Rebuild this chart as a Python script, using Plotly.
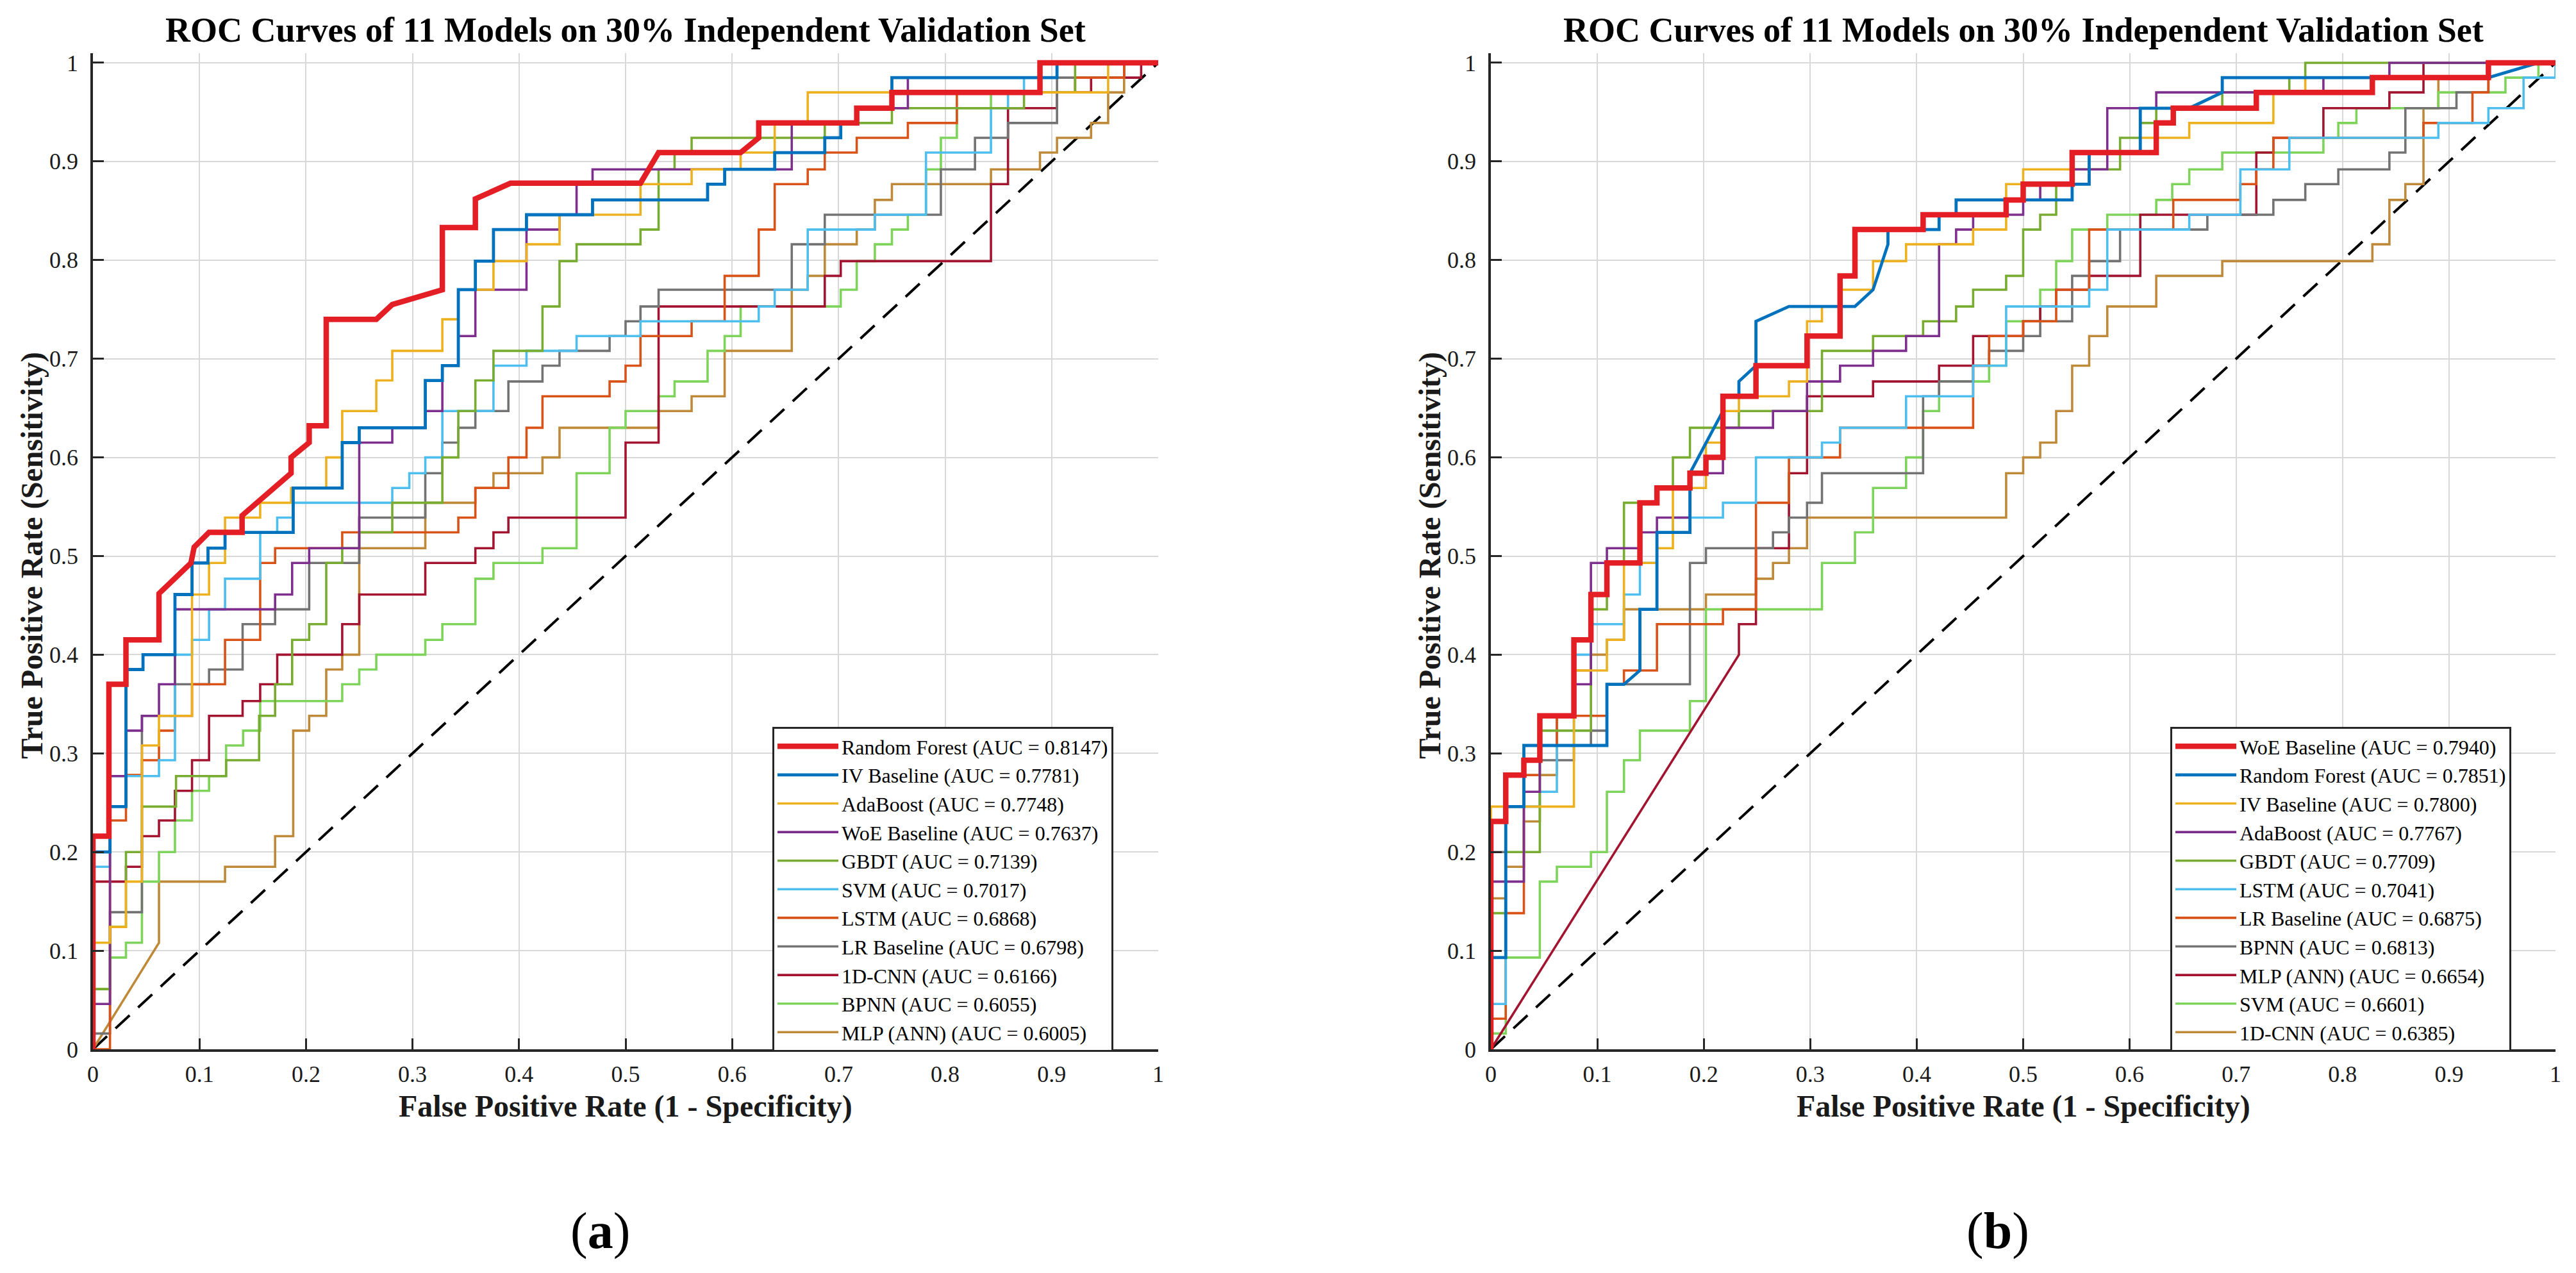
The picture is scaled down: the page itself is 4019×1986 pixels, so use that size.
import plotly.graph_objects as go

# ---------------- data ----------------
TICK_VALS = [0, 0.1, 0.2, 0.3, 0.4, 0.5, 0.6, 0.7, 0.8, 0.9, 1.0]
TICK_TEXT = ["0", "0.1", "0.2", "0.3", "0.4", "0.5", "0.6", "0.7", "0.8", "0.9", "1"]

TITLE = "ROC Curves of 11 Models on 30% Independent Validation Set"
X_TITLE = "False Positive Rate (1 - Specificity)"
Y_TITLE = "True Positive Rate (Sensitivity)"
PANEL_LABELS = ["a", "b"]

A_MODELS = ["Random Forest", "IV Baseline", "AdaBoost", "WoE Baseline", "GBDT", "SVM",
            "LSTM", "LR Baseline", "1D-CNN", "BPNN", "MLP (ANN)"]
A_AUC = [0.8147, 0.7781, 0.7748, 0.7637, 0.7139, 0.7017, 0.6868, 0.6798, 0.6166, 0.6055, 0.6005]

B_MODELS = ["WoE Baseline", "Random Forest", "IV Baseline", "AdaBoost", "GBDT", "LSTM",
            "LR Baseline", "BPNN", "MLP (ANN)", "SVM", "1D-CNN"]
B_AUC = [0.7940, 0.7851, 0.7800, 0.7767, 0.7709, 0.7041, 0.6875, 0.6813, 0.6654, 0.6601, 0.6385]

# ROC vertices (FPR, TPR), panel (a)
A_RF = [(0,0),(0,0.216),(0.015,0.216),(0.015,0.370),(0.031,0.370),(0.031,0.415),(0.062,0.415),(0.062,0.462),
        (0.092,0.493),(0.095,0.509),(0.109,0.524),(0.140,0.524),(0.140,0.541),(0.186,0.584),(0.186,0.600),
        (0.203,0.615),(0.203,0.632),(0.219,0.632),(0.219,0.740),(0.266,0.740),(0.281,0.755),(0.328,0.770),
        (0.328,0.833),(0.359,0.833),(0.359,0.862),(0.392,0.878),(0.514,0.878),(0.531,0.909),(0.608,0.909),
        (0.625,0.924),(0.625,0.939),(0.717,0.939),(0.717,0.954),(0.750,0.954),(0.750,0.970),(0.889,0.970),
        (0.889,1.0),(1.0,1.0)]
A_IV = [(0,0),(0,0.2),(0.016,0.2),(0.016,0.246),(0.031,0.246),(0.031,0.385),(0.047,0.385),(0.047,0.400),
        (0.077,0.400),(0.077,0.461),(0.093,0.461),(0.093,0.493),(0.108,0.493),(0.108,0.508),(0.124,0.508),
        (0.124,0.524),(0.188,0.524),(0.188,0.569),(0.234,0.569),(0.234,0.615),(0.250,0.615),(0.250,0.630),
        (0.312,0.630),(0.312,0.678),(0.328,0.678),(0.328,0.693),(0.343,0.693),(0.343,0.770),(0.359,0.770),
        (0.359,0.799),(0.376,0.799),(0.376,0.831),(0.407,0.831),(0.407,0.846),(0.469,0.846),(0.469,0.861),
        (0.577,0.861),(0.577,0.877),(0.593,0.877),(0.593,0.892),(0.640,0.892),(0.640,0.909),(0.687,0.909),
        (0.687,0.924),(0.702,0.924),(0.702,0.939),(0.717,0.939),(0.717,0.954),(0.750,0.954),(0.750,0.985),
        (0.905,0.985),(0.905,1.0),(1.0,1.0)]
A_ADA = [(0,0),(0,0.108),(0.016,0.108),(0.016,0.124),(0.031,0.124),(0.031,0.170),(0.046,0.170),(0.046,0.308),
         (0.062,0.308),(0.062,0.338),(0.093,0.338),(0.093,0.461),(0.109,0.461),(0.109,0.493),(0.124,0.493),
         (0.124,0.539),(0.157,0.539),(0.157,0.554),(0.186,0.554),(0.186,0.569),(0.219,0.569),(0.219,0.600),
         (0.234,0.600),(0.234,0.647),(0.266,0.647),(0.266,0.678),(0.281,0.678),(0.281,0.708),(0.328,0.708),
         (0.328,0.740),(0.343,0.740),(0.343,0.770),(0.376,0.770),(0.376,0.799),(0.407,0.799),(0.407,0.816),
         (0.438,0.816),(0.438,0.846),(0.514,0.846),(0.514,0.877),(0.562,0.877),(0.562,0.892),(0.608,0.892),
         (0.608,0.909),(0.640,0.909),(0.640,0.939),(0.671,0.939),(0.671,0.970),(0.953,0.970),(0.953,1.0),
         (1.0,1.0)]
A_WOE = [(0,0),(0,0.046),(0.016,0.046),(0.016,0.277),(0.031,0.277),(0.031,0.323),(0.046,0.323),(0.046,0.338),
         (0.062,0.338),(0.062,0.370),(0.077,0.370),(0.077,0.446),(0.171,0.446),(0.171,0.461),(0.187,0.461),
         (0.187,0.493),(0.203,0.493),(0.203,0.508),(0.250,0.508),(0.250,0.615),(0.281,0.615),(0.281,0.630),
         (0.312,0.630),(0.312,0.647),(0.328,0.647),(0.328,0.693),(0.343,0.693),(0.343,0.723),(0.359,0.723),
         (0.359,0.770),(0.407,0.770),(0.407,0.831),(0.438,0.831),(0.438,0.846),(0.454,0.846),(0.454,0.878),
         (0.469,0.878),(0.469,0.892),(0.656,0.892),(0.656,0.939),(0.717,0.939),(0.717,0.954),(0.765,0.954),
         (0.765,0.985),(0.889,0.985),(0.889,1.0),(1.0,1.0)]
A_GBDT = [(0,0),(0,0.061),(0.016,0.061),(0.016,0.124),(0.031,0.124),(0.031,0.2),(0.046,0.2),(0.046,0.246),
          (0.078,0.246),(0.078,0.277),(0.125,0.277),(0.125,0.293),(0.156,0.293),(0.156,0.338),(0.171,0.338),
          (0.171,0.370),(0.187,0.370),(0.187,0.415),(0.203,0.415),(0.203,0.431),(0.219,0.431),(0.219,0.493),
          (0.234,0.493),(0.234,0.508),(0.250,0.508),(0.250,0.524),(0.281,0.524),(0.281,0.554),(0.328,0.554),
          (0.328,0.600),(0.343,0.600),(0.343,0.647),(0.359,0.647),(0.359,0.678),(0.376,0.678),(0.376,0.708),
          (0.422,0.708),(0.422,0.753),(0.438,0.753),(0.438,0.799),(0.454,0.799),(0.454,0.816),(0.514,0.816),
          (0.514,0.831),(0.531,0.831),(0.531,0.892),(0.546,0.892),(0.546,0.909),(0.562,0.909),(0.562,0.924),
          (0.687,0.924),(0.687,0.939),(0.750,0.939),(0.750,0.954),(0.874,0.954),(0.874,0.970),(0.922,0.970),
          (0.922,1.0),(1.0,1.0)]
A_SVM = [(0,0),(0,0.185),(0.016,0.185),(0.016,0.277),(0.062,0.277),(0.062,0.293),(0.077,0.293),(0.077,0.400),
         (0.093,0.400),(0.093,0.415),(0.109,0.415),(0.109,0.446),(0.124,0.446),(0.124,0.477),(0.157,0.477),
         (0.157,0.524),(0.173,0.524),(0.173,0.539),(0.188,0.539),(0.188,0.554),(0.281,0.554),(0.281,0.569),
         (0.297,0.569),(0.297,0.584),(0.312,0.584),(0.312,0.600),(0.328,0.600),(0.328,0.647),(0.376,0.647),
         (0.376,0.693),(0.407,0.693),(0.407,0.708),(0.454,0.708),(0.454,0.723),(0.514,0.723),(0.514,0.738),
         (0.625,0.738),(0.625,0.753),(0.640,0.753),(0.640,0.770),(0.671,0.770),(0.671,0.831),(0.734,0.831),
         (0.734,0.846),(0.782,0.846),(0.782,0.909),(0.843,0.909),(0.843,0.954),(0.859,0.954),(0.859,0.970),
         (0.874,0.970),(0.874,0.985),(0.905,0.985),(0.905,1.0),(1.0,1.0)]
A_LSTM = [(0,0),(0.016,0),(0.016,0.232),(0.031,0.232),(0.031,0.278),(0.046,0.278),(0.046,0.293),(0.062,0.293),
          (0.062,0.323),(0.077,0.323),(0.077,0.338),(0.093,0.338),(0.093,0.370),(0.124,0.370),(0.124,0.415),
          (0.157,0.415),(0.157,0.493),(0.171,0.493),(0.171,0.508),(0.234,0.508),(0.234,0.524),(0.343,0.524),
          (0.343,0.539),(0.359,0.539),(0.359,0.569),(0.390,0.569),(0.390,0.600),(0.407,0.600),(0.407,0.630),
          (0.422,0.630),(0.422,0.662),(0.485,0.662),(0.485,0.677),(0.500,0.677),(0.500,0.693),(0.514,0.693),
          (0.514,0.723),(0.562,0.723),(0.562,0.738),(0.593,0.738),(0.593,0.784),(0.625,0.784),(0.625,0.831),
          (0.640,0.831),(0.640,0.877),(0.671,0.877),(0.671,0.892),(0.687,0.892),(0.687,0.909),(0.717,0.909),
          (0.717,0.924),(0.765,0.924),(0.765,0.939),(0.811,0.939),(0.811,0.970),(0.922,0.970),(0.922,0.985),
          (0.968,0.985),(0.968,1.0),(1.0,1.0)]
A_LR = [(0,0),(0,0.016),(0.016,0.016),(0.016,0.139),(0.046,0.139),(0.046,0.338),(0.077,0.338),(0.077,0.370),
        (0.109,0.370),(0.109,0.385),(0.1405,0.385),(0.1405,0.431),(0.171,0.431),(0.171,0.446),(0.203,0.446),
        (0.203,0.493),(0.250,0.493),(0.250,0.539),(0.312,0.539),(0.312,0.584),(0.328,0.584),(0.328,0.615),
        (0.343,0.615),(0.343,0.630),(0.359,0.630),(0.359,0.647),(0.390,0.647),(0.390,0.677),(0.422,0.677),
        (0.422,0.693),(0.438,0.693),(0.438,0.708),(0.485,0.708),(0.485,0.723),(0.500,0.723),(0.500,0.738),
        (0.514,0.738),(0.514,0.753),(0.531,0.753),(0.531,0.770),(0.656,0.770),(0.656,0.816),(0.687,0.816),
        (0.687,0.846),(0.796,0.846),(0.796,0.892),(0.828,0.892),(0.828,0.924),(0.859,0.924),(0.859,0.939),
        (0.905,0.939),(0.905,0.985),(0.968,0.985),(0.968,1.0),(1.0,1.0)]
A_CNN = [(0,0),(0,0.170),(0.031,0.170),(0.031,0.185),(0.046,0.185),(0.046,0.216),(0.062,0.216),(0.062,0.232),
         (0.077,0.232),(0.077,0.262),(0.093,0.262),(0.093,0.293),(0.109,0.293),(0.109,0.338),(0.1405,0.338),
         (0.1405,0.353),(0.157,0.353),(0.157,0.370),(0.173,0.370),(0.173,0.400),(0.234,0.400),(0.234,0.431),
         (0.250,0.431),(0.250,0.461),(0.312,0.461),(0.312,0.493),(0.359,0.493),(0.359,0.508),(0.376,0.508),
         (0.376,0.524),(0.390,0.524),(0.390,0.539),(0.500,0.539),(0.500,0.615),(0.531,0.615),(0.531,0.753),
         (0.687,0.753),(0.687,0.784),(0.702,0.784),(0.702,0.799),(0.843,0.799),(0.843,0.877),(0.859,0.877),
         (0.859,0.954),(0.905,0.954),(0.905,0.970),(0.937,0.970),(0.937,0.985),(0.984,0.985),(0.984,1.0),
         (1.0,1.0)]
A_BPNN = [(0,0),(0,0.061),(0.016,0.061),(0.016,0.093),(0.031,0.093),(0.031,0.108),(0.046,0.108),(0.046,0.170),
          (0.062,0.170),(0.062,0.2),(0.077,0.2),(0.077,0.232),(0.093,0.232),(0.093,0.262),(0.109,0.262),
          (0.109,0.277),(0.125,0.277),(0.125,0.308),(0.141,0.308),(0.141,0.323),(0.157,0.323),(0.157,0.353),
          (0.234,0.353),(0.234,0.370),(0.250,0.370),(0.250,0.385),(0.266,0.385),(0.266,0.400),(0.312,0.400),
          (0.312,0.415),(0.328,0.415),(0.328,0.431),(0.359,0.431),(0.359,0.477),(0.376,0.477),(0.376,0.493),
          (0.422,0.493),(0.422,0.508),(0.454,0.508),(0.454,0.584),(0.485,0.584),(0.485,0.630),(0.500,0.630),
          (0.500,0.647),(0.531,0.647),(0.531,0.662),(0.546,0.662),(0.546,0.677),(0.577,0.677),(0.577,0.708),
          (0.593,0.708),(0.593,0.723),(0.608,0.723),(0.608,0.753),(0.702,0.753),(0.702,0.770),(0.717,0.770),
          (0.717,0.799),(0.734,0.799),(0.734,0.816),(0.750,0.816),(0.750,0.831),(0.765,0.831),(0.765,0.846),
          (0.782,0.846),(0.782,0.892),(0.796,0.892),(0.796,0.924),(0.811,0.924),(0.811,0.954),(0.843,0.954),
          (0.843,0.970),(0.889,0.970),(0.889,1.0),(1.0,1.0)]
A_MLP = [(0,0),(0.062,0.108),(0.062,0.170),(0.124,0.170),(0.124,0.185),(0.171,0.185),(0.171,0.216),(0.188,0.216),
         (0.188,0.323),(0.203,0.323),(0.203,0.338),(0.219,0.338),(0.219,0.385),(0.234,0.385),(0.234,0.400),
         (0.250,0.400),(0.250,0.508),(0.312,0.508),(0.312,0.554),(0.359,0.554),(0.359,0.569),(0.376,0.569),
         (0.376,0.584),(0.422,0.584),(0.422,0.600),(0.438,0.600),(0.438,0.630),(0.531,0.630),(0.531,0.647),
         (0.562,0.647),(0.562,0.662),(0.593,0.662),(0.593,0.708),(0.656,0.708),(0.656,0.770),(0.671,0.770),
         (0.671,0.784),(0.687,0.784),(0.687,0.816),(0.717,0.816),(0.717,0.831),(0.734,0.831),(0.734,0.861),
         (0.750,0.861),(0.750,0.877),(0.843,0.877),(0.843,0.892),(0.889,0.892),(0.889,0.909),(0.905,0.909),
         (0.905,0.924),(0.937,0.924),(0.937,0.939),(0.953,0.939),(0.953,0.970),(0.968,0.970),(0.968,1.0),
         (1.0,1.0)]

# panel (b)
B_WOE = [(0,0),(0,0.231),(0.014,0.231),(0.014,0.278),(0.031,0.278),(0.031,0.293),(0.046,0.293),(0.046,0.338),
         (0.078,0.338),(0.078,0.415),(0.094,0.415),(0.094,0.461),(0.109,0.461),(0.109,0.493),(0.140,0.493),
         (0.140,0.554),(0.156,0.554),(0.156,0.569),(0.187,0.569),(0.187,0.584),(0.202,0.584),(0.202,0.600),
         (0.218,0.600),(0.218,0.662),(0.249,0.662),(0.249,0.693),(0.297,0.693),(0.297,0.723),(0.328,0.723),
         (0.328,0.784),(0.342,0.784),(0.342,0.831),(0.406,0.831),(0.406,0.846),(0.484,0.846),(0.484,0.861),
         (0.500,0.861),(0.500,0.877),(0.546,0.877),(0.546,0.909),(0.625,0.909),(0.625,0.939),(0.641,0.939),
         (0.641,0.954),(0.719,0.954),(0.719,0.970),(0.828,0.970),(0.828,0.985),(0.937,0.985),(0.937,1.0),
         (1.0,1.0)]
B_RF = [(0,0),(0,0.093),(0.014,0.093),(0.014,0.246),(0.031,0.246),(0.031,0.308),(0.109,0.308),(0.109,0.370),
        (0.125,0.370),(0.140,0.384),(0.140,0.446),(0.156,0.446),(0.156,0.524),(0.187,0.524),(0.187,0.584),
        (0.218,0.647),(0.218,0.662),(0.233,0.662),(0.233,0.677),(0.249,0.693),(0.249,0.738),(0.280,0.753),
        (0.342,0.753),(0.359,0.770),(0.373,0.816),(0.373,0.831),(0.421,0.831),(0.421,0.846),(0.437,0.846),
        (0.437,0.861),(0.546,0.861),(0.546,0.877),(0.562,0.877),(0.562,0.909),(0.610,0.909),(0.610,0.954),
        (0.656,0.954),(0.687,0.970),(0.687,0.985),(0.937,0.985),(0.984,1.0),(1.0,1.0)]
B_IV = [(0,0),(0,0.246),(0.078,0.246),(0.078,0.384),(0.109,0.384),(0.109,0.415),(0.125,0.415),(0.125,0.493),
        (0.156,0.493),(0.156,0.508),(0.171,0.508),(0.171,0.569),(0.202,0.569),(0.202,0.615),(0.218,0.615),
        (0.218,0.647),(0.233,0.647),(0.233,0.662),(0.280,0.662),(0.280,0.677),(0.297,0.677),(0.297,0.738),
        (0.311,0.738),(0.311,0.753),(0.328,0.753),(0.328,0.770),(0.359,0.770),(0.359,0.799),(0.390,0.799),
        (0.390,0.816),(0.453,0.816),(0.453,0.831),(0.484,0.831),(0.484,0.877),(0.500,0.877),(0.500,0.892),
        (0.546,0.892),(0.546,0.909),(0.610,0.909),(0.610,0.924),(0.656,0.924),(0.656,0.939),(0.735,0.939),
        (0.735,0.970),(0.765,0.970),(0.765,0.985),(0.937,0.985),(0.937,1.0),(1.0,1.0)]
B_ADA = [(0,0),(0,0.170),(0.031,0.170),(0.031,0.261),(0.046,0.261),(0.046,0.338),(0.078,0.338),(0.078,0.370),
         (0.094,0.370),(0.094,0.493),(0.109,0.493),(0.109,0.508),(0.140,0.508),(0.140,0.524),(0.156,0.524),
         (0.156,0.539),(0.187,0.539),(0.187,0.584),(0.218,0.584),(0.218,0.630),(0.265,0.630),(0.265,0.647),
         (0.297,0.647),(0.297,0.677),(0.328,0.677),(0.328,0.693),(0.359,0.693),(0.359,0.708),(0.390,0.708),
         (0.390,0.723),(0.421,0.723),(0.421,0.816),(0.437,0.816),(0.437,0.831),(0.453,0.831),(0.453,0.846),
         (0.500,0.846),(0.500,0.861),(0.516,0.861),(0.516,0.877),(0.546,0.877),(0.546,0.892),(0.579,0.892),
         (0.579,0.954),(0.625,0.954),(0.625,0.970),(0.782,0.970),(0.782,0.985),(0.844,0.985),(0.844,1.0),
         (1.0,1.0)]
B_GBDT = [(0,0),(0,0.138),(0.014,0.138),(0.014,0.2),(0.046,0.2),(0.046,0.323),(0.094,0.323),(0.094,0.446),
          (0.109,0.446),(0.109,0.493),(0.125,0.493),(0.125,0.554),(0.156,0.554),(0.156,0.569),(0.171,0.569),
          (0.171,0.600),(0.187,0.600),(0.187,0.630),(0.233,0.630),(0.233,0.647),(0.311,0.647),(0.311,0.708),
          (0.359,0.708),(0.359,0.723),(0.406,0.723),(0.406,0.738),(0.437,0.738),(0.437,0.753),(0.453,0.753),
          (0.453,0.770),(0.484,0.770),(0.484,0.784),(0.500,0.784),(0.500,0.831),(0.516,0.831),(0.516,0.846),
          (0.531,0.846),(0.531,0.877),(0.546,0.877),(0.546,0.892),(0.591,0.892),(0.591,0.924),(0.610,0.924),
          (0.610,0.939),(0.625,0.939),(0.625,0.954),(0.687,0.954),(0.687,0.970),(0.750,0.970),(0.750,0.985),
          (0.765,0.985),(0.765,1.0),(1.0,1.0)]
B_LSTM = [(0,0),(0,0.046),(0.014,0.046),(0.014,0.246),(0.046,0.246),(0.046,0.261),(0.062,0.261),(0.062,0.308),
          (0.078,0.308),(0.078,0.400),(0.094,0.400),(0.094,0.431),(0.125,0.431),(0.125,0.461),(0.140,0.461),
          (0.140,0.493),(0.156,0.493),(0.156,0.524),(0.171,0.524),(0.171,0.539),(0.218,0.539),(0.218,0.554),
          (0.249,0.554),(0.249,0.600),(0.311,0.600),(0.311,0.615),(0.328,0.615),(0.328,0.630),(0.390,0.630),
          (0.390,0.662),(0.453,0.662),(0.453,0.693),(0.484,0.693),(0.484,0.753),(0.562,0.753),(0.562,0.770),
          (0.579,0.770),(0.579,0.831),(0.656,0.831),(0.656,0.846),(0.704,0.846),(0.704,0.892),(0.750,0.892),
          (0.750,0.924),(0.890,0.924),(0.890,0.939),(0.937,0.939),(0.937,0.954),(0.970,0.954),(0.970,0.985),
          (1.0,0.985),(1.0,1.0)]
B_LR = [(0,0),(0,0.031),(0.014,0.031),(0.014,0.138),(0.031,0.138),(0.031,0.278),(0.046,0.278),(0.046,0.308),
        (0.062,0.308),(0.062,0.338),(0.109,0.338),(0.109,0.370),(0.125,0.370),(0.125,0.384),(0.156,0.384),
        (0.156,0.431),(0.218,0.431),(0.218,0.446),(0.249,0.446),(0.249,0.554),(0.280,0.554),(0.280,0.600),
        (0.328,0.600),(0.328,0.630),(0.453,0.630),(0.453,0.693),(0.468,0.693),(0.468,0.723),(0.500,0.723),
        (0.500,0.738),(0.531,0.738),(0.531,0.770),(0.562,0.770),(0.562,0.831),(0.641,0.831),(0.641,0.861),
        (0.704,0.861),(0.704,0.877),(0.719,0.877),(0.719,0.892),(0.735,0.892),(0.735,0.924),(0.876,0.924),
        (0.876,0.939),(0.922,0.939),(0.922,0.970),(0.937,0.970),(0.937,1.0),(1.0,1.0)]
B_BPNN = [(0,0),(0,0.2),(0.014,0.2),(0.014,0.246),(0.031,0.246),(0.031,0.293),(0.078,0.293),(0.078,0.308),
          (0.094,0.308),(0.094,0.323),(0.109,0.323),(0.109,0.370),(0.187,0.370),(0.187,0.493),(0.202,0.493),
          (0.202,0.508),(0.265,0.508),(0.265,0.524),(0.280,0.524),(0.280,0.539),(0.297,0.539),(0.297,0.554),
          (0.311,0.554),(0.311,0.584),(0.406,0.584),(0.406,0.662),(0.421,0.662),(0.421,0.677),(0.453,0.677),
          (0.453,0.693),(0.468,0.693),(0.468,0.708),(0.500,0.708),(0.500,0.723),(0.516,0.723),(0.516,0.738),
          (0.546,0.738),(0.546,0.784),(0.562,0.784),(0.562,0.799),(0.591,0.799),(0.591,0.831),(0.673,0.831),
          (0.673,0.846),(0.735,0.846),(0.735,0.861),(0.765,0.861),(0.765,0.877),(0.796,0.877),(0.796,0.892),
          (0.844,0.892),(0.844,0.909),(0.859,0.909),(0.859,0.954),(0.907,0.954),(0.907,0.970),(0.937,0.970),
          (0.937,1.0),(1.0,1.0)]
B_MLP = [(0,0),(0.233,0.400),(0.233,0.431),(0.249,0.431),(0.249,0.508),(0.280,0.508),(0.280,0.584),(0.297,0.584),
         (0.297,0.662),(0.359,0.662),(0.359,0.677),(0.421,0.677),(0.421,0.693),(0.453,0.693),(0.453,0.723),
         (0.500,0.723),(0.500,0.738),(0.516,0.738),(0.516,0.753),(0.531,0.753),(0.531,0.770),(0.562,0.770),
         (0.562,0.784),(0.610,0.784),(0.610,0.846),(0.719,0.846),(0.719,0.909),(0.735,0.909),(0.735,0.924),
         (0.782,0.924),(0.782,0.954),(0.844,0.954),(0.844,0.970),(0.876,0.970),(0.876,1.0),(1.0,1.0)]
B_SVM = [(0,0),(0,0.016),(0.014,0.016),(0.014,0.093),(0.046,0.093),(0.046,0.170),(0.062,0.170),(0.062,0.185),
         (0.094,0.185),(0.094,0.2),(0.109,0.2),(0.109,0.261),(0.125,0.261),(0.125,0.293),(0.140,0.293),
         (0.140,0.323),(0.187,0.323),(0.187,0.353),(0.202,0.353),(0.202,0.446),(0.311,0.446),(0.311,0.493),
         (0.342,0.493),(0.342,0.524),(0.359,0.524),(0.359,0.569),(0.390,0.569),(0.390,0.600),(0.406,0.600),
         (0.406,0.647),(0.421,0.647),(0.421,0.677),(0.468,0.677),(0.468,0.693),(0.484,0.693),(0.484,0.738),
         (0.516,0.738),(0.516,0.770),(0.531,0.770),(0.531,0.799),(0.546,0.799),(0.546,0.831),(0.579,0.831),
         (0.579,0.846),(0.625,0.846),(0.625,0.861),(0.640,0.861),(0.640,0.877),(0.656,0.877),(0.656,0.892),
         (0.687,0.892),(0.687,0.909),(0.782,0.909),(0.782,0.924),(0.796,0.924),(0.796,0.939),(0.813,0.939),
         (0.813,0.954),(0.890,0.954),(0.890,0.970),(0.953,0.970),(0.953,0.985),(0.984,0.985),(0.984,1.0),
         (1.0,1.0)]
B_CNN = [(0,0),(0,0.153),(0.014,0.153),(0.014,0.185),(0.031,0.185),(0.031,0.231),(0.046,0.231),(0.046,0.278),
         (0.062,0.278),(0.062,0.338),(0.078,0.338),(0.078,0.384),(0.094,0.384),(0.094,0.400),(0.109,0.400),
         (0.109,0.415),(0.125,0.415),(0.125,0.446),(0.202,0.446),(0.202,0.461),(0.249,0.461),(0.249,0.477),
         (0.265,0.477),(0.265,0.493),(0.280,0.493),(0.280,0.508),(0.297,0.508),(0.297,0.539),(0.484,0.539),
         (0.484,0.584),(0.500,0.584),(0.500,0.600),(0.516,0.600),(0.516,0.615),(0.531,0.615),(0.531,0.647),
         (0.546,0.647),(0.546,0.693),(0.562,0.693),(0.562,0.723),(0.579,0.723),(0.579,0.753),(0.625,0.753),
         (0.625,0.784),(0.687,0.784),(0.687,0.799),(0.828,0.799),(0.828,0.816),(0.844,0.816),(0.844,0.861),
         (0.859,0.861),(0.859,0.877),(0.876,0.877),(0.876,0.954),(0.890,0.954),(0.890,0.985),(0.937,0.985),
         (0.937,1.0),(1.0,1.0)]

A_CURVES = [A_RF, A_IV, A_ADA, A_WOE, A_GBDT, A_SVM, A_LSTM, A_LR, A_CNN, A_BPNN, A_MLP]
B_CURVES = [B_WOE, B_RF, B_IV, B_ADA, B_GBDT, B_LSTM, B_LR, B_BPNN, B_MLP, B_SVM, B_CNN]
CHANCE = [0, 1]

# ---------------- style ----------------
COLORS = ["#E31E24", "#0072BD", "#EDB120", "#7E2F8E", "#77AC30", "#4DBEEE",
          "#D95319", "#737373", "#A2142F", "#7ED35A", "#BE8A3A"]
WIDTHS = [8.5, 4.8, 3.6, 3.6, 3.6, 3.6, 3.6, 3.6, 3.6, 3.6, 3.6]
FONT = "Liberation Serif"
INK = "#1a1a1a"

W, H = 4019, 1986
XDOM_A = [145 / W, 1807 / W]
XDOM_B = [2326 / W, 3987 / W]
YDOM = [1 - 1637 / H, 1 - 82.6 / H]

fig = go.Figure()

panels = [
    ("x", "y", "legend", A_MODELS, A_AUC, A_CURVES),
    ("x2", "y2", "legend2", B_MODELS, B_AUC, B_CURVES),
]
for xa, ya, lg, models, aucs, curves in panels:
    fig.add_trace(go.Scatter(x=CHANCE, y=CHANCE, mode="lines", xaxis=xa, yaxis=ya,
                             line=dict(color="black", width=4, dash="30px,18px"),
                             showlegend=False, hoverinfo="skip"))
    for i in reversed(range(len(models))):
        pts = curves[i]
        fig.add_trace(go.Scatter(
            x=[p[0] for p in pts], y=[p[1] for p in pts], mode="lines",
            xaxis=xa, yaxis=ya, legend=lg,
            name=f"{models[i]} (AUC = {aucs[i]:.4f})",
            line=dict(color=COLORS[i], width=WIDTHS[i])))

axis_common = dict(
    range=[0, 1], tickvals=TICK_VALS, ticktext=TICK_TEXT,
    showline=True, linecolor="#262626", linewidth=3.5, mirror=False,
    ticks="inside", ticklen=17, tickwidth=3, tickcolor="#262626",
    showgrid=True, gridcolor="#d8d8d8", gridwidth=2, zeroline=False,
    tickfont=dict(family=FONT, size=36, color=INK), automargin=False,
)
xcommon = dict(axis_common, ticklabelstandoff=4)
ycommon = dict(axis_common, range=[0, 1.01], ticklabelstandoff=12)

legend_common = dict(
    xanchor="left", yanchor="top", bgcolor="white", bordercolor="#262626", borderwidth=3,
    font=dict(family=FONT, size=32, color="black"), traceorder="reversed", itemwidth=95,
    tracegroupgap=0,
)

fig.update_layout(
    width=W, height=H, margin=dict(l=0, r=0, t=0, b=0),
    paper_bgcolor="white", plot_bgcolor="white",
    xaxis=dict(xcommon, domain=XDOM_A, anchor="y"),
    yaxis=dict(ycommon, domain=YDOM, anchor="x"),
    xaxis2=dict(xcommon, domain=XDOM_B, anchor="y2"),
    yaxis2=dict(ycommon, domain=YDOM, anchor="x2"),
    legend=dict(legend_common, x=1205 / W, y=1 - 1134 / H),
    legend2=dict(legend_common, x=3386 / W, y=1 - 1134 / H),
    showlegend=True,
)

annotations = []
for k, xd in enumerate([XDOM_A, XDOM_B]):
    cx = (xd[0] + xd[1]) / 2
    annotations.append(dict(text=TITLE, x=cx, y=1 - 47 / H, xref="paper", yref="paper",
                            showarrow=False, xanchor="center", yanchor="middle",
                            font=dict(family=FONT, size=54, color="black", weight="bold")))
    annotations.append(dict(text=X_TITLE, x=cx, y=1 - 1726 / H, xref="paper", yref="paper",
                            showarrow=False, xanchor="center", yanchor="middle",
                            font=dict(family=FONT, size=48, color=INK, weight="bold")))
    annotations.append(dict(text=Y_TITLE, x=xd[0] - 95 / W, y=1 - 867 / H, xref="paper", yref="paper",
                            showarrow=False, xanchor="center", yanchor="middle", textangle=-90,
                            font=dict(family=FONT, size=48, color=INK, weight="bold")))
    annotations.append(dict(text=f"(<b>{PANEL_LABELS[k]}</b>)", x=cx - 40 / W, y=1 - 1920 / H,
                            xref="paper", yref="paper", showarrow=False,
                            xanchor="center", yanchor="middle",
                            font=dict(family=FONT, size=80, color="black")))
fig.update_layout(annotations=annotations)

fig.write_html("out.html", config={"displayModeBar": False},
               post_script="document.body.style.margin='0';")
